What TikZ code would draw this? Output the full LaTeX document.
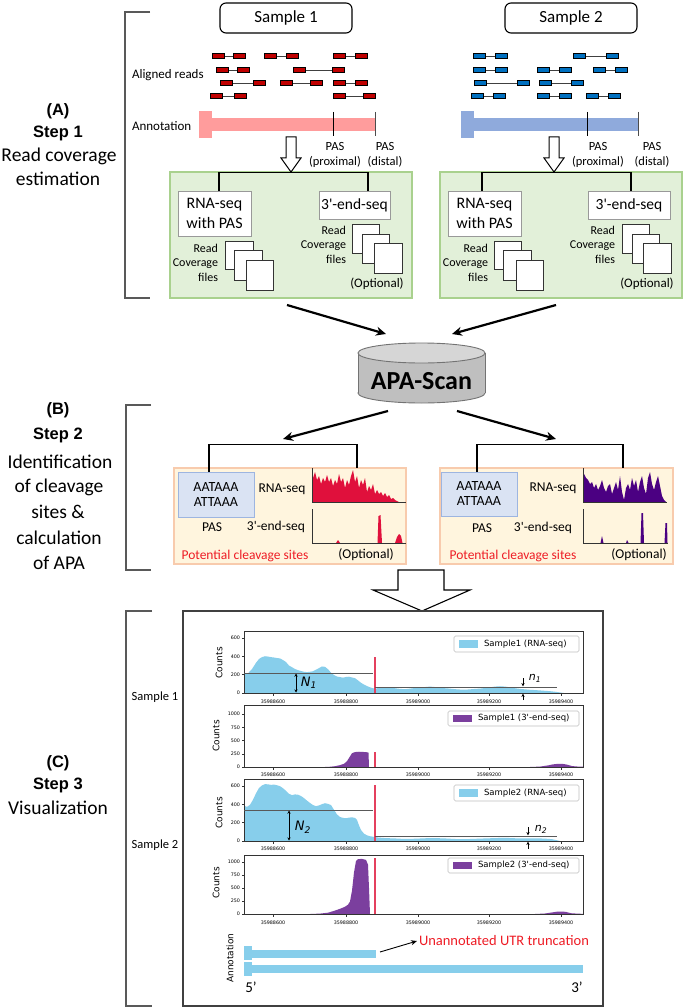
\documentclass[tikz,border=0pt]{standalone}
\usepackage{fontspec}
\setmainfont{Carlito}[Ligatures=TeXOff]
\newfontfamily\dejavu{DejaVu Sans}
\newfontfamily\arialf{Liberation Sans}
\usetikzlibrary{arrows.meta}
\definecolor{readred}{HTML}{C00000}
\definecolor{readblue}{HTML}{0070C0}
\definecolor{annpink}{HTML}{FF9C9C}
\definecolor{annblue}{HTML}{8FAADC}
\definecolor{grfill}{HTML}{E2F0D9}
\definecolor{grline}{HTML}{A9D18E}
\definecolor{crfill}{HTML}{FFF5DE}
\definecolor{crline}{HTML}{F8CBAD}
\definecolor{bxfill}{HTML}{DAE3F3}
\definecolor{bxline}{HTML}{9DB5E0}
\definecolor{sky}{HTML}{87CEEB}
\definecolor{purp}{HTML}{7B3F9E}
\definecolor{crim}{HTML}{E0103C}
\definecolor{indig}{HTML}{4B0082}
\definecolor{vline}{HTML}{E4405E}
\definecolor{utrred}{HTML}{EE1C25}
\definecolor{cylbody}{HTML}{BFBFBF}
\definecolor{cyltop}{HTML}{D6D6D6}
\newcommand\fsz[1]{\fontsize{#1}{\dimexpr #1pt*6/5\relax}\selectfont}
\newcommand\rdpair[4]{%
  \draw[line width=0.7pt, black!75] (#1+12,#3) -- (#2,#3);
  \draw[line width=1pt, fill=#4] (#1,#3-2.8) rectangle (#1+12,#3+2.8);
  \draw[line width=1pt, fill=#4] (#2,#3-2.8) rectangle (#2+12,#3+2.8);}
\newcommand\xticks[3]{% ybot, label y, id
  \foreach \xx/\lab in {273/35988600,346/35988800,418/35989000,489/35989200,561/35989400}{
    \draw[tk] (\xx,#1) -- (\xx,#1+2.5);
    \node[ticklab] (xt-#3-\lab) at (\xx,#2) {\lab};}}
\newcommand\yticks[2]{% list, id
  \foreach \yy/\lab in {#1}{
    \draw[tk] (244,\yy) -- (241.5,\yy);
    \node[ticklab,anchor=east] (yt-#2-\lab) at (240,\yy) {\lab};}}
\begin{document}
\begin{tikzpicture}[x=1pt,y=-1pt,
  txt/.style={inner sep=0pt,outer sep=0pt},
  brk/.style={draw=black!65,line width=1.1pt},
  wbox/.style={draw=black!40,fill=white,line width=0.9pt,inner sep=0pt},
  sq/.style={draw=black!80,fill=white,line width=0.8pt},
  tree/.style={line width=1.3pt},
  bigarr/.style={line width=2.2pt,-{Stealth[length=10pt,width=9pt]}},
  hollow/.style={draw=black,fill=white,line width=1pt},
  axbox/.style={draw=black!80,line width=0.7pt},
  tk/.style={draw=black!80,line width=0.5pt},
  ticklab/.style={txt,font=\dejavu\fontsize{4.8}{5}\selectfont},
  lgd/.style={draw=black!25,fill=white,rounded corners=1.5pt,line width=0.6pt,inner sep=0pt},
  lgdtxt/.style={txt,anchor=west,font=\dejavu\fontsize{8.5}{9}\selectfont},
  cnt/.style={txt,rotate=90,font=\dejavu\fontsize{9}{10}\selectfont},
  pasl/.style={txt,font=\fsz{12.5}},
  steplab/.style={txt,font=\arialf\bfseries\fsz{16.5}},
  desc/.style={txt,font=\fsz{19.5}},
  nlab/.style={txt,font=\dejavu\itshape\fontsize{13}{13}\selectfont},
  nline/.style={draw=black!65,line width=0.9pt},
  narr/.style={line width=0.7pt,>={Stealth[length=3.2pt,width=3.2pt]}},
  ]
\useasboundingbox (0,0) rectangle (685,1008);
\fill[white] (0,0) rectangle (685,1008);

% ---------------- Step 1 ----------------
\draw[brk] (150,12) -- (125,12) -- (125,298) -- (150,298);
\node[steplab] (lA) at (58,111) {(A)};
\node[steplab] (lS1) at (58,133) {Step 1};
\node[desc] (lRC) at (59,156) {Read coverage};
\node[desc] (lEst) at (58,179) {estimation};

\node[draw,rounded corners=6pt,line width=1.1pt,minimum width=132pt,minimum height=30pt,inner sep=0pt,font=\fsz{17}] (s1) at (286,18) {Sample 1};
\node[draw,rounded corners=6pt,line width=1.1pt,minimum width=132pt,minimum height=30pt,inner sep=0pt,font=\fsz{17}] (s2) at (571,18) {Sample 2};

\node[txt,anchor=west,font=\fsz{13}] (alr) at (132,75) {Aligned reads};
\node[txt,anchor=west,font=\fsz{13}] (ann) at (132,126) {Annotation};

% reads sample 1
\rdpair{212}{233}{56}{readred}
\rdpair{264}{286}{56}{readred}
\rdpair{333}{355}{56}{readred}
\rdpair{216}{237}{70}{readred}
\rdpair{293}{332}{70}{readred}
\rdpair{220}{253}{83}{readred}
\rdpair{280}{310}{83}{readred}
\rdpair{333}{355}{83}{readred}
\rdpair{210}{234}{96}{readred}
\rdpair{333}{363}{96}{readred}
% reads sample 2
\rdpair{473}{495}{56}{readblue}
\rdpair{573}{606}{56}{readblue}
\rdpair{473}{495}{70}{readblue}
\rdpair{537}{559}{70}{readblue}
\rdpair{593}{615}{70}{readblue}
\rdpair{474}{517}{83}{readblue}
\rdpair{539}{571}{83}{readblue}
\rdpair{471}{493}{96}{readblue}
\rdpair{537}{559}{96}{readblue}
\rdpair{586}{608}{96}{readblue}

% annotation bars
\fill[annpink] (199,111) rectangle (212,138);
\fill[annpink] (199,118) rectangle (375,131);
\draw[line width=0.8pt] (333,112) -- (333,136);
\draw[line width=0.8pt,black!70] (375,112) -- (375,136);
\fill[annblue] (461,111) rectangle (474,138);
\fill[annblue] (461,118) rectangle (638,131);
\draw[line width=0.8pt] (587,112) -- (587,136);
\draw[line width=0.8pt,black!70] (638,112) -- (638,136);

\node[pasl] (p1a) at (335,146) {PAS};
\node[pasl] (p1b) at (335,162) {(proximal)};
\node[pasl] (p1c) at (385,146) {PAS};
\node[pasl] (p1d) at (385,162) {(distal)};
\node[pasl] (p2a) at (598,146) {PAS};
\node[pasl] (p2b) at (598,162) {(proximal)};
\node[pasl] (p2c) at (652,146) {PAS};
\node[pasl] (p2d) at (652,162) {(distal)};

% green boxes
\node[draw=grline,fill=grfill,line width=1.2pt,minimum width=242pt,minimum height=126pt,inner sep=0pt] (gb1) at (291,235) {};
\node[draw=grline,fill=grfill,line width=1.2pt,minimum width=242pt,minimum height=126pt,inner sep=0pt] (gb2) at (561,235) {};

% hollow arrows
\draw[hollow] (286,137) -- (296,137) -- (296,158) -- (301,158) -- (291,172) -- (281,158) -- (286,158) -- cycle;
\draw[hollow] (549,137) -- (559,137) -- (559,158) -- (564,158) -- (554,172) -- (544,158) -- (549,158) -- cycle;

% inner boxes
\node[wbox,minimum width=73pt,minimum height=45pt,align=center,font=\fontsize{16}{19.5}\selectfont] (rb1) at (214.5,213.5) {RNA-seq\\with PAS};
\node[wbox,minimum width=71pt,minimum height=28pt,font=\fsz{15.5}] (eb1) at (354.5,205) {3'-end-seq};
\node[wbox,minimum width=73pt,minimum height=45pt,align=center,font=\fontsize{16}{19.5}\selectfont] (rb2) at (484.5,213.5) {RNA-seq\\with PAS};
\node[wbox,minimum width=82pt,minimum height=28pt,font=\fsz{15.5}] (eb2) at (629,205) {3'-end-seq};

\draw[tree] ([xshift=4.5pt]rb1.north) -- ++(0,-18) -| ([xshift=13.5pt]eb1.north);
\draw[tree] ([xshift=-2.5pt]rb2.north) -- ++(0,-18) -| ([xshift=2pt]eb2.north);

% coverage file stacks
\draw[sq] (225,241) rectangle (253,269);
\draw[sq] (234,250) rectangle (262,280);
\draw[sq] (246,260) rectangle (273,290);
\draw[sq] (352,224) rectangle (379,253);
\draw[sq] (362,234) rectangle (389,263);
\draw[sq] (374,243) rectangle (402,273);
\draw[sq] (494,241) rectangle (521,269);
\draw[sq] (503,250) rectangle (531,280);
\draw[sq] (516,260) rectangle (543,290);
\draw[sq] (622,224) rectangle (649,253);
\draw[sq] (632,234) rectangle (659,263);
\draw[sq] (643,243) rectangle (671,273);

\node[txt,anchor=east,align=right,font=\fontsize{12}{14.5}\selectfont] (rc1) at (218,262.5) {Read\\Coverage\\files};
\node[txt,anchor=east,align=right,font=\fontsize{12}{14.5}\selectfont] (rc2) at (346,244.5) {Read\\Coverage\\files};
\node[txt,anchor=east,align=right,font=\fontsize{12}{14.5}\selectfont] (rc3) at (488,262.5) {Read\\Coverage\\files};
\node[txt,anchor=east,align=right,font=\fontsize{12}{14.5}\selectfont] (rc4) at (615,244.5) {Read\\Coverage\\files};
\node[txt,font=\fsz{13}] (opt1) at (377,284) {(Optional)};
\node[txt,font=\fsz{13}] (opt2) at (647,284) {(Optional)};

% ---------------- APA-Scan ----------------
\fill[cylbody] (421.5,393) ellipse [x radius=63.5, y radius=10];
\draw[black!55,line width=0.9pt] (421.5,393) ellipse [x radius=63.5, y radius=10];
\fill[cylbody] (358,353) rectangle (485,393);
\draw[black!55,line width=0.9pt] (358,353) -- (358,393);
\draw[black!55,line width=0.9pt] (485,353) -- (485,393);
\draw[black!55,line width=0.9pt,fill=cyltop] (421.5,353) ellipse [x radius=63.5, y radius=10];
\node[txt,font=\bfseries\fsz{26}] (apa) at (421.5,381) {APA-Scan};

\coordinate (a1s) at (287,305);
\coordinate (a1e) at (386,334);
\coordinate (a2s) at (556,305);
\coordinate (a2e) at (452,334);
\draw[bigarr] (a1s) -- (a1e);
\draw[bigarr] (a2s) -- (a2e);

% ---------------- Step 2 ----------------
\draw[brk] (151,405) -- (126,405) -- (126,570) -- (151,570);
\node[steplab] (lB) at (58,410) {(B)};
\node[steplab] (lS2) at (58,435) {Step 2};
\node[desc] (lId) at (60,462) {Identification};
\node[desc] (lOc) at (59,487) {of cleavage};
\node[desc] (lSi) at (58,512) {sites \&};
\node[desc] (lCa) at (59,538) {calculation};
\node[desc] (lOA) at (59,563) {of APA};

\coordinate (b1s) at (388,411);
\coordinate (b1e) at (283,439);
\coordinate (b2s) at (457,411);
\coordinate (b2e) at (556,439);
\draw[bigarr] (b1s) -- (b1e);
\draw[bigarr] (b2s) -- (b2e);

\node[draw=crline,fill=crfill,line width=1.2pt,minimum width=232pt,minimum height=96pt,inner sep=0pt] (cb1) at (290,516) {};
\node[draw=crline,fill=crfill,line width=1.2pt,minimum width=233pt,minimum height=96pt,inner sep=0pt] (cb2) at (556.5,516) {};

\node[draw=bxline,fill=bxfill,line width=1pt,minimum width=76pt,minimum height=45pt,inner sep=0pt,align=center,font=\fontsize{14}{15}\selectfont] (pb1) at (216,494.5) {AATAAA\\ATTAAA};
\node[draw=bxline,fill=bxfill,line width=1pt,minimum width=76pt,minimum height=44pt,inner sep=0pt,align=center,font=\fontsize{14}{15}\selectfont] (pb2) at (479,494) {AATAAA\\ATTAAA};

\coordinate (pl1top) at (357,468);
\coordinate (pl2top) at (623,468);
\draw[tree] ([xshift=-7pt]pb1.north) -- ++(0,-27) -| (pl1top);
\draw[tree] ([xshift=-2pt]pb2.north) -- ++(0,-27) -| (pl2top);

\node[txt,font=\fsz{13.5}] (rs1) at (282,489) {RNA-seq};
\node[txt,font=\fsz{13.5}] (pas1) at (212,527) {PAS};
\node[txt,font=\fsz{13.5}] (es1) at (276,527) {3'-end-seq};
\node[txt,font=\fsz{13.5},text=utrred] (pc1) at (245,556) {Potential cleavage sites};
\node[txt,font=\fsz{13.5}] (o1) at (366,555) {(Optional)};
\node[txt,font=\fsz{13.5}] (rs2) at (553,488) {RNA-seq};
\node[txt,font=\fsz{13.5}] (pas2) at (482,528) {PAS};
\node[txt,font=\fsz{13.5}] (es2) at (543,528) {3'-end-seq};
\node[txt,font=\fsz{13.5},text=utrred] (pc2) at (513,556) {Potential cleavage sites};
\node[txt,font=\fsz{13.5}] (o2) at (639,555) {(Optional)};

% small red plots
\fill[crim] (313,502) -- (313,478) -- (315,472) -- (317,480) -- (319,476) -- (321,484) -- (323,478) -- (325,482) -- (327,475) -- (329,482) -- (331,478) -- (333,486) -- (335,480) -- (337,484) -- (339,474) -- (341,482) -- (343,478) -- (345,488) -- (347,480) -- (349,485) -- (351,476) -- (353,470) -- (355,482) -- (357,476) -- (359,488) -- (361,480) -- (363,485) -- (365,478) -- (367,492) -- (369,486) -- (371,490) -- (373,484) -- (375,494) -- (377,490) -- (379,494) -- (381,492) -- (383,496) -- (385,493) -- (387,497) -- (389,495) -- (391,499) -- (393,498) -- (395,500) -- (397,501) -- (399,502) -- cycle;
\draw[line width=0.9pt,black!80] (312,468) -- (312,502) -- (406,502);
\fill[crim] (336,543) -- (338,540) -- (340,543) -- cycle;
\fill[crim] (377.5,543) -- (378.5,516) -- (380.5,515) -- (382,543) -- cycle;
\fill[crim] (395,543) -- (397,537) -- (399,534) -- (401,536) -- (402.5,543) -- cycle;
\draw[line width=0.9pt,black!80] (312,509) -- (312,543) -- (406,543);

% small purple plots
\fill[indig] (584,502) -- (584,474) -- (586,478) -- (588,480) -- (590,484) -- (592,482) -- (594,488) -- (596,484) -- (598,490) -- (600,486) -- (602,480) -- (604,488) -- (606,492) -- (608,486) -- (610,484) -- (612,494) -- (614,488) -- (616,482) -- (618,490) -- (620,476) -- (622,492) -- (624,500) -- (626,488) -- (628,484) -- (630,490) -- (632,478) -- (634,486) -- (636,480) -- (638,492) -- (640,482) -- (642,476) -- (644,488) -- (646,494) -- (648,478) -- (650,472) -- (652,484) -- (654,490) -- (656,482) -- (658,476) -- (660,486) -- (662,496) -- (664,500) -- (666,502) -- cycle;
\draw[line width=0.9pt,black!80] (583,468) -- (583,502) -- (667,502);
\fill[indig] (600.5,543) -- (602,536) -- (603.5,543) -- cycle;
\fill[indig] (626,543) -- (627,540) -- (628.5,543) -- cycle;
\fill[indig] (640.5,543) -- (641.5,513) -- (643,513) -- (644,543) -- cycle;
\fill[indig] (664.5,543) -- (665.5,523) -- (667,523) -- (667.5,543) -- cycle;
\draw[line width=0.9pt,black!80] (583,509) -- (583,543) -- (668,543);

% big hollow arrow
\draw[hollow,line width=1.1pt] (398,570) -- (444,570) -- (444,590) -- (470,590) -- (422,611) -- (373,590) -- (398,590) -- cycle;

% ---------------- Step 3 ----------------
\draw[brk] (152,611) -- (126,611) -- (126,1006) -- (152,1006);
\draw[draw=black!75,line width=1.1pt] (183,611) rectangle (603,1006);
\node[steplab] (lC) at (58,763) {(C)};
\node[steplab] (lS3) at (58,785) {Step 3};
\node[desc] (lVis) at (58,808) {Visualization};
\node[txt,font=\fsz{12.5}] (sm1) at (155,697) {Sample 1};
\node[txt,font=\fsz{12.5}] (sm2) at (155,845) {Sample 2};

% plot 1
\begin{scope}[shift={(0,693)},yscale=-0.0915]
\fill[sky] (244,0) -- (244,210) -- (248,215) -- (252,262) -- (256,330) -- (259,372) -- (262,392) -- (265,402) -- (268,398) -- (271,392) -- (274,388) -- (277,382) -- (280,378) -- (283,360) -- (286,338) -- (289,300) -- (292,282) -- (295,262) -- (298,250) -- (301,240) -- (304,232) -- (307,228) -- (310,232) -- (313,238) -- (316,255) -- (319,272) -- (322,290) -- (325,286) -- (328,260) -- (331,222) -- (334,196) -- (337,180) -- (340,174) -- (343,168) -- (346,175) -- (349,178) -- (352,170) -- (355,162) -- (358,138) -- (361,112) -- (364,92) -- (367,76) -- (370,62) -- (373,52) -- (376,48) -- (380,62) -- (385,60) -- (390,58) -- (395,52) -- (400,45) -- (405,42) -- (410,48) -- (415,55) -- (420,60) -- (425,65) -- (430,70) -- (435,65) -- (440,58) -- (445,52) -- (450,48) -- (455,42) -- (460,38) -- (465,36) -- (470,40) -- (475,45) -- (480,48) -- (485,55) -- (490,62) -- (495,70) -- (500,74) -- (505,70) -- (510,62) -- (515,52) -- (520,45) -- (525,40) -- (530,35) -- (535,32) -- (540,28) -- (545,24) -- (550,20) -- (555,14) -- (560,6) -- (564,0) -- cycle;
\end{scope}
\draw[axbox] (244,631) rectangle (583,693);
\xticks{693}{702}{a}
\yticks{693/0,674.7/200,656.4/400,638.1/600}{a}
\node[cnt] (ca) at (219,663) {Counts};
\node[lgd,minimum width=125pt,minimum height=16pt] (lg1) at (516.5,644) {};
\fill[sky] (459,640) rectangle (478,648);
\node[lgdtxt] (lt1) at (484,644) {Sample1 (RNA-seq)};
\draw[vline,line width=1.2pt] (375,657) -- (375,693);
\draw[nline] (244,673) -- (373,673);
\draw[narr,<->] (296,673.5) -- (296,692.5);
\node[nlab] (N1) at (309,683) {N\textsubscript{1}};
\draw[nline] (375,687) -- (557,687);
\draw[narr,->] (523,678) -- (523,686.3);
\draw[narr,->] (523,700) -- (523,693.7);
\node[nlab,font=\dejavu\itshape\fontsize{11}{11}\selectfont] (n1) at (535,678) {n\textsubscript{1}};

% plot 2
\begin{scope}[shift={(0,767)},yscale=-0.053]
\fill[purp] (244,0) -- (325,0) -- (330,5) -- (335,15) -- (340,35) -- (344,60) -- (347,110) -- (350,200) -- (352,260) -- (355,282) -- (359,288) -- (363,284) -- (367,278) -- (368.5,270) -- (369,0) -- (530,0) -- (540,8) -- (548,30) -- (553,50) -- (558,60) -- (563,58) -- (567,45) -- (572,18) -- (578,8) -- (583,5) -- (583,0) -- cycle;
\end{scope}
\draw[axbox] (244,705) rectangle (583,767);
\xticks{767}{775}{b}
\yticks{767/0,753.75/250,740.5/500,727.25/750,714/1000}{b}
\node[cnt] (cb) at (216,736) {Counts};
\node[lgd,minimum width=131pt,minimum height=15pt] (lg2) at (513.5,718.5) {};
\fill[purp] (453,715) rectangle (472,722);
\node[lgdtxt] (lt2) at (478,718.5) {Sample1 (3'-end-seq)};
\draw[vline,line width=1.2pt] (375,752) -- (375,767);

% plot 3
\begin{scope}[shift={(0,841)},yscale=-0.0917]
\fill[sky] (244,0) -- (244,385) -- (247,372) -- (250,395) -- (253,450) -- (256,520) -- (259,578) -- (262,606) -- (265,620) -- (268,618) -- (271,612) -- (274,615) -- (277,608) -- (280,598) -- (283,575) -- (286,548) -- (289,515) -- (292,500) -- (295,508) -- (298,505) -- (301,490) -- (304,468) -- (307,440) -- (310,415) -- (313,392) -- (316,380) -- (319,388) -- (322,402) -- (325,412) -- (328,405) -- (331,392) -- (334,340) -- (337,290) -- (340,262) -- (343,252) -- (346,248) -- (349,255) -- (352,258) -- (355,252) -- (357,230) -- (359,170) -- (361,120) -- (364,80) -- (367,62) -- (370,52) -- (374,45) -- (378,38) -- (385,32) -- (395,28) -- (405,22) -- (415,25) -- (425,30) -- (435,32) -- (445,28) -- (455,22) -- (465,20) -- (475,24) -- (485,28) -- (495,32) -- (505,35) -- (515,30) -- (525,28) -- (535,30) -- (545,26) -- (552,20) -- (557,8) -- (560,0) -- cycle;
\end{scope}
\draw[axbox] (244,779) rectangle (583,841);
\xticks{841}{849}{c}
\yticks{841/0,822.7/200,804.4/400,786/600}{c}
\node[cnt] (cc) at (219,813) {Counts};
\node[lgd,minimum width=125pt,minimum height=16pt] (lg3) at (516.5,793) {};
\fill[sky] (459,789) rectangle (478,797);
\node[lgdtxt] (lt3) at (484,793) {Sample2 (RNA-seq)};
\draw[vline,line width=1.2pt] (375,785) -- (375,841);
\draw[nline] (244,810) -- (373,810);
\draw[narr,<->] (289,810.5) -- (289,840.5);
\node[nlab] (N2) at (303,827) {N\textsubscript{2}};
\draw[nline] (375,836) -- (557,836);
\draw[narr,->] (528,827) -- (528,835.3);
\draw[narr,->] (528,849) -- (528,841.7);
\node[nlab,font=\dejavu\itshape\fontsize{11}{11}\selectfont] (n2) at (541,829) {n\textsubscript{2}};

% plot 4
\begin{scope}[shift={(0,914)},yscale=-0.052]
\fill[purp] (244,0) -- (310,0) -- (320,8) -- (328,25) -- (334,60) -- (340,100) -- (345,140) -- (348,180) -- (350,240) -- (352,450) -- (354,800) -- (356,1020) -- (358,1055) -- (362,1060) -- (366,1040) -- (368,950) -- (369,500) -- (370,0) -- (535,0) -- (545,10) -- (552,30) -- (557,45) -- (562,48) -- (566,40) -- (571,15) -- (578,6) -- (583,4) -- (583,0) -- cycle;
\end{scope}
\draw[axbox] (244,855) rectangle (583,914);
\xticks{914}{923}{d}
\yticks{914/0,901/250,888/500,875/750,862/1000}{d}
\node[cnt] (cd) at (216,883) {Counts};
\node[lgd,minimum width=131pt,minimum height=15pt] (lg4) at (513.5,865.5) {};
\fill[purp] (453,862) rectangle (472,869);
\node[lgdtxt] (lt4) at (478,865.5) {Sample2 (3'-end-seq)};
\draw[vline,line width=1.2pt] (375,858) -- (375,914);

% annotation track
\node[cnt] (annt) at (230,958) {Annotation};
\fill[sky] (244,946) rectangle (252,960);
\fill[sky] (244,950) rectangle (376,958);
\fill[sky] (244,962) rectangle (252,976);
\fill[sky] (244,965) rectangle (583,973);
\node[txt,anchor=west,font=\fsz{14.5},text=utrred] (utr) at (419,941) {Unannotated UTR truncation};
\coordinate (utrs) at (380,952);
\draw[line width=0.9pt,-{Stealth[length=6pt,width=5pt]}] (utrs) -- ([xshift=-2pt]utr.west);
\node[txt,font=\fsz{15}] (p5) at (251,987) {5’};
\node[txt,font=\fsz{15}] (p3) at (577,987) {3’};
\end{tikzpicture}
\end{document}
